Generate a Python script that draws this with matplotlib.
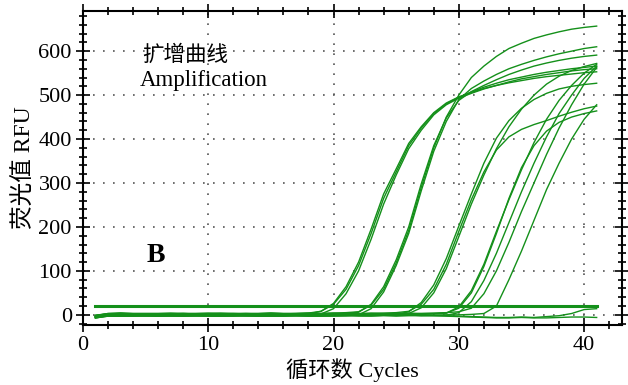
import matplotlib.pyplot as plt
from matplotlib.ticker import MultipleLocator

plt.rcParams['font.family'] = ['Liberation Serif', 'Noto Sans CJK SC']

# cycles 1..41
cycles = list(range(1, 42))

# amplification curves (RFU per cycle)
group1 = [
    [-2, 2, 3, 2, 1, 2, 2, 3, 2, 2,
     2, 3, 2, 2, 3, 2, 3, 4, 8, 24,
     58, 112, 185, 265, 325, 385, 425, 458, 480, 495,
     507, 518, 527, 535, 541, 547, 552, 556, 560, 563, 566],
    [-6, -2, -2, -1, -2, -3, -2, -2, -1, -2,
     -2, -2, -1, -2, -2, -1, -2, -1, 2, 14,
     48, 100, 172, 252, 318, 378, 420, 455, 478, 493,
     504, 514, 522, 530, 537, 542, 547, 551, 555, 558, 560],
    [-5, 0, 0, 0, 1, 0, 0, 0, 0, 1,
     0, 0, 0, 1, 0, 0, 2, 2, 8, 26,
     64, 120, 195, 275, 332, 390, 428, 460, 482, 496,
     506, 515, 522, 528, 533, 538, 542, 545, 548, 551, 553],
]
group2 = [
    [-1, 3, 4, 3, 3, 3, 4, 3, 3, 3,
     4, 3, 3, 3, 4, 3, 3, 4, 3, 4,
     5, 7, 22, 58, 118, 192, 290, 380, 450, 500,
     540, 566, 588, 606, 618, 629, 637, 644, 650, 654, 657],
    [-7, -3, -3, -3, -2, -3, -3, -3, -2, -3,
     -3, -3, -2, -3, -3, -3, -2, -3, -3, -2,
     -2, 0, 14, 52, 112, 185, 282, 372, 440, 490,
     515, 532, 547, 560, 570, 579, 587, 594, 600, 606, 610],
    [-4, 1, 1, 2, 1, 1, 1, 2, 1, 1,
     1, 2, 1, 1, 1, 2, 1, 1, 2, 2,
     3, 6, 24, 64, 125, 200, 298, 385, 448, 488,
     508, 522, 535, 547, 557, 566, 573, 579, 584, 588, 591],
]
group3 = [
    [-5, -1, -1, -1, 0, -1, -1, -1, -1, -1,
     0, -1, -1, -1, -1, 0, -1, -1, -1, -1,
     -1, 0, -1, 0, 1, 7, 28, 68, 128, 202,
     275, 345, 402, 442, 470, 490, 504, 514, 520, 524, 527],
    [-1, 2, 3, 2, 2, 2, 2, 3, 2, 2,
     2, 2, 3, 2, 2, 2, 2, 3, 2, 2,
     2, 2, 3, 4, 5, 8, 24, 58, 115, 190,
     262, 325, 375, 405, 422, 433, 442, 452, 461, 469, 475],
    [-7, -2, -2, -2, -2, -1, -2, -2, -2, -1,
     -2, -2, -2, -2, -1, -2, -2, -2, -1, -2,
     -2, -1, -2, -1, 1, 3, 16, 50, 105, 178,
     252, 318, 378, 428, 468, 500, 525, 543, 556, 565, 572],
]
group4 = [
    [-3, 1, 1, 2, 1, 1, 1, 1, 2, 1,
     1, 1, 1, 2, 1, 1, 1, 1, 2, 1,
     1, 1, 2, 1, 2, 2, 3, 3, 4, 18,
     55, 115, 190, 262, 330, 392, 445, 488, 522, 550, 570],
    [-7, -3, -3, -3, -3, -3, -2, -3, -3, -3,
     -3, -2, -3, -3, -3, -3, -2, -3, -3, -3,
     -2, -3, -3, -2, -3, -2, -2, -1, -1, 5,
     30, 78, 140, 210, 280, 345, 405, 458, 500, 538, 566],
    [-2, 3, 4, 3, 3, 3, 3, 3, 3, 4,
     3, 3, 3, 3, 4, 3, 3, 3, 3, 4,
     3, 3, 4, 3, 3, 4, 3, 4, 5, 7,
     15, 48, 100, 165, 235, 300, 365, 425, 478, 525, 563],
    [-4, 0, 0, 0, 1, 0, 0, 1, 0, 0,
     0, 0, 1, 0, 0, 0, 0, 1, 0, 0,
     1, 0, 0, 0, 1, 1, 1, 2, 4, 15,
     50, 110, 185, 265, 335, 385, 418, 438, 450, 458, 464],
]
group5 = [
    [-4, -1, -1, 0, -1, -1, -1, -1, -1, 0,
     -1, -1, -1, 0, -1, -1, -1, -1, -1, 0,
     -1, -1, -1, 0, -1, -1, 0, -1, 0, 0,
     1, 3, 20, 80, 145, 215, 285, 345, 400, 445, 478],
]
negatives = [
    [-5, -1, 0, 0, -1, 0, 0, -1, 0, 0,
     0, -1, 0, 0, 0, -1, 0, 0, 0, -1,
     0, 0, -1, 0, 0, -1, -1, -2, -2, -3,
     -4, -5, -6, -6, -5, -6, -4, -2, 3, 12, 14],
    [-4, -1, -1, 0, 0, -1, 0, 0, 0, -1,
     0, 0, -1, 0, 0, 0, -1, 0, 0, 0,
     -1, 0, 0, -1, -1, 0, -2, -2, -3, -4,
     -5, -6, -7, -7, -6, -7, -7, -6, -5, -5, -6],
]
threshold = 20.5

green = '#14901a'

fig = plt.figure(figsize=(6.28, 3.85), dpi=100)
ax = fig.add_axes([0.132, 0.156, 0.858, 0.815])

for curve in negatives + group1 + group2 + group3 + group4 + group5:
    ax.plot(cycles, curve, color=green, lw=1.0)
ax.plot([cycles[0], cycles[-1]], [threshold, threshold], color=green, lw=2.2)

ax.set_xlim(0, 43)
ax.set_ylim(-23, 691)
ax.xaxis.set_major_locator(MultipleLocator(10))
ax.xaxis.set_minor_locator(MultipleLocator(2))
ax.yaxis.set_major_locator(MultipleLocator(100))
ax.yaxis.set_minor_locator(MultipleLocator(20))
ax.grid(True, which='major', color='#555555', linestyle=(0, (1, 5)), lw=1.2)

ax.tick_params(which='both', direction='inout', top=True, right=True,
               labelsize=16, width=1.2, pad=3)
ax.tick_params(which='major', length=10)
ax.tick_params(which='minor', length=6)
for s in ax.spines.values():
    s.set_linewidth(1.5)

ax.set_xlabel('循环数 Cycles', fontsize=16, labelpad=2)
ax.set_ylabel('荧光值 RFU', fontsize=17, labelpad=2)

ax.text(4.7, 589, '扩增曲线', fontsize=15.5, va='center', ha='left')
ax.text(4.55, 534, 'Amplification', fontsize=16.5, va='center', ha='left')
ax.text(5.8, 136, 'B', fontsize=20, fontweight='bold', va='center', ha='center')

fig.savefig('out.png', dpi=100)
